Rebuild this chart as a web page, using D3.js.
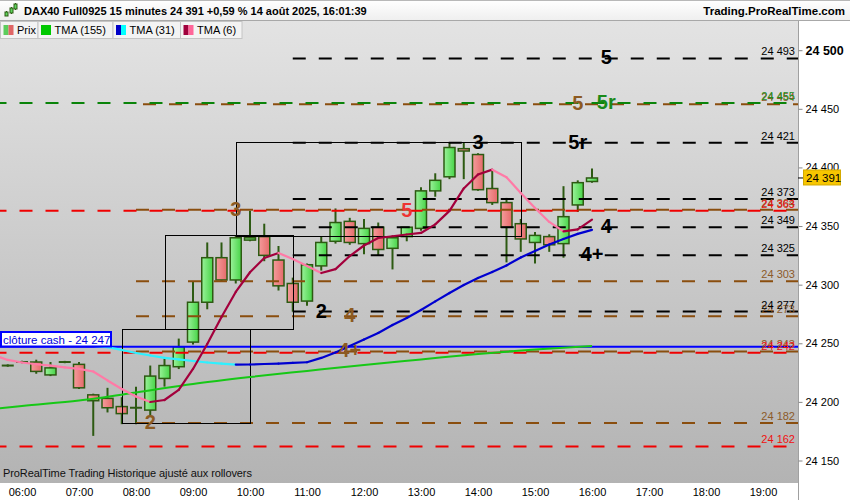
<!DOCTYPE html>
<html><head><meta charset="utf-8">
<script src="https://cdn.jsdelivr.net/npm/d3@7"></script>
<style>
html,body{margin:0;padding:0;background:#fff;}
svg{display:block;font-family:"Liberation Sans",Arial,sans-serif;}
</style></head><body>
<svg id="c" width="850" height="500"></svg>
<script>
// ---------------- DATA ----------------
const titleText = "DAX40 Full0925 15 minutes 24 391 +0,59 % 14 août 2025, 16:01:39";
const siteText = "Trading.ProRealTime.com";
const legendItems = ["Prix", "TMA (155)", "TMA (31)", "TMA (6)"];
const footerText = "ProRealTime Trading  Historique ajusté aux rollovers";

const timeTickLabels = ["06:00","07:00","08:00","09:00","10:00","11:00","12:00","13:00","14:00","15:00","16:00","17:00","18:00","19:00"];
const priceTicks = [24150, 24200, 24250, 24300, 24350, 24400, 24450, 24500];

const candleTimes = ["05:45","06:00","06:15","06:30","06:45","07:00","07:15","07:30","07:45","08:00","08:15","08:30","08:45","09:00","09:15","09:30","09:45","10:00","10:15","10:30","10:45","11:00","11:15","11:30","11:45","12:00","12:15","12:30","12:45","13:00","13:15","13:30","13:45","14:00","14:15","14:30","14:45","15:00","15:15","15:30","15:45","16:00"];
const openValues  = [24231,24234,24234,24223,24234,24232,24206,24203,24196,24195,24193,24220,24230,24251,24285,24323,24304,24338,24341,24321,24301,24286,24316,24337,24354,24335,24349,24331,24341,24348,24380,24392,24416,24411,24382,24370,24352,24336,24341,24335,24368,24388];
const highValues  = [24232,24235,24236,24234,24235,24234,24207,24212,24204,24213,24231,24237,24254,24303,24336,24336,24342,24363,24352,24333,24306,24318,24341,24365,24357,24356,24353,24341,24349,24383,24395,24421,24421,24412,24398,24374,24356,24345,24343,24384,24389,24399];
const lowValues   = [24230,24233,24224,24222,24233,24211,24171,24191,24181,24181,24188,24213,24228,24249,24279,24303,24301,24337,24320,24295,24277,24282,24312,24335,24334,24326,24325,24313,24337,24346,24375,24390,24390,24380,24368,24319,24328,24318,24328,24323,24362,24387];
const closeValues = [24231,24234,24226,24229,24234,24212,24201,24195,24190,24195,24222,24231,24247,24285,24323,24304,24340,24340,24325,24299,24285,24317,24336,24353,24336,24348,24330,24340,24349,24380,24389,24417,24414,24381,24370,24349,24339,24342,24334,24358,24387,24391];

// TMA (6)
const tma6Times  = ["05:30","05:45","06:00","06:15","06:30","06:45","07:00","07:15","07:30","07:45","08:00","08:15","08:30","08:45","09:00","09:15","09:30","09:45","10:00","10:15","10:30","10:45","11:00","11:15","11:30","11:45","12:00","12:15","12:30","12:45","13:00","13:15","13:30","13:45","14:00","14:15","14:30","14:45","15:00","15:15","15:30","15:45","16:00"];
const tma6Values = [24240.0,24235.8,24233.6,24232.1,24230.9,24229.5,24228.1,24225.9,24218.3,24211.0,24204.6,24199.9,24201.6,24210.2,24228.1,24249.4,24272.4,24293.8,24310.6,24322.8,24327.0,24321.9,24315.9,24309.9,24313.3,24324.4,24333.4,24339.8,24341.3,24342.8,24344.1,24351.4,24362.9,24382.1,24394.0,24398.1,24391.6,24378.2,24365.4,24353.5,24345.4,24347.1,24355.5];
// TMA (31)
const tma31Times  = ["07:15","07:30","07:45","08:00","08:15","08:30","08:45","09:00","09:15","09:30","09:45","10:00","10:15","10:30","10:45","11:00","11:15","11:30","11:45","12:00","12:15","12:30","12:45","13:00","13:15","13:30","13:45","14:00","14:15","14:30","14:45","15:00","15:15","15:30","15:45","16:00"];
const tma31Values = [24247.7,24246.6,24244.3,24241.7,24239.6,24237.5,24236.2,24234.9,24233.6,24232.6,24231.8,24231.9,24232.3,24232.7,24233.2,24233.8,24237.5,24242.2,24247.7,24253.2,24258.8,24265.6,24271.6,24278.4,24285.7,24292.9,24299.7,24305.7,24310.8,24316.4,24323.2,24328.8,24334.3,24339.0,24343.3,24346.7];
// TMA (155)
const tma155Times  = ["05:30","06:00","07:00","08:00","09:00","10:00","11:00","12:00","13:00","14:00","15:00","16:00"];
const tma155Values = [24193.9,24196.5,24201.2,24208.0,24215.3,24221.2,24226.4,24231.5,24236.2,24240.9,24244.7,24247.7];

// horizontal levels
const levelValues = [24454, 24364, 24303, 24273, 24243, 24182, 24455, 24493, 24421, 24373, 24349, 24325, 24277, 24363, 24242, 24162];
const levelKinds  = ["brown","brown","brown","brown","brown","brown","green","black","black","black","black","black","black","red","red","red"];
const levelStarts = ["08:00","08:00","08:00","08:00","08:00","08:00","05:30","10:45","10:45","10:45","10:45","10:45","10:45","05:30","05:30","05:30"];

const cashValue = 24247;
const cashLabel = "clôture cash -  24 247";
const lastPrice = 24391;

// boxes
const boxStart = ["07:45","08:30","09:45"];
const boxEnd   = ["10:00","10:45","14:45"];
const boxLow   = [24182, 24262, 24342];
const boxHigh  = [24262, 24342, 24422];

// wave labels
const waveTexts  = ["5","5","5r","3","5r","3","5","4","4+","2","4","4+","2"];
const waveTimes  = ["16:15","15:45","16:15","14:00","15:45","09:45","12:45","16:15","16:00","11:15","11:45","11:45","08:15"];
const waveValues = [24493, 24454, 24455, 24421, 24421, 24364, 24363, 24349, 24325, 24277, 24273, 24243, 24182];
const waveKinds  = ["black","brown","green","black","black","brown","red","black","black","black","brown","brown","brown"];

// ---------------- STYLE ----------------
const colors = {black:"#000000", brown:"#8a4e0e", green:"#0a840a", red:"#f00000"};
const labelColors = {black:"#000000", brown:"#8c5a22", green:"#1a8a1a", red:"#ee3333"};
const levelTextColors = {black:"#000000", brown:"#8c5a2a", green:"#1d8f1d", red:"#f01010"};

const toMin = s => { const p = s.split(":").map(Number); return p[0]*60 + p[1]; };
const fmt = v => { const s = String(Math.round(v)); return s.slice(0,2) + " " + s.slice(2); };

const plot = {left:0, right:798, top:21, bottom:483};
const x = d3.scaleLinear().domain([toMin("06:00"), toMin("19:00")]).range([22, 763]);
const y = d3.scaleLinear().domain([24150, 24500]).range([460.5, 50.2]);

const svg = d3.select("#c");
const defs = svg.append("defs");

const bg = defs.append("linearGradient").attr("id","bg").attr("x1",0).attr("y1",0).attr("x2",0).attr("y2",1);
bg.append("stop").attr("offset","0").attr("stop-color","#e3e3e3");
bg.append("stop").attr("offset","1").attr("stop-color","#b3b3b3");
const hd = defs.append("linearGradient").attr("id","hd").attr("x1",0).attr("y1",0).attr("x2",0).attr("y2",1);
hd.append("stop").attr("offset","0").attr("stop-color","#ffffff");
hd.append("stop").attr("offset","1").attr("stop-color","#efefef");
const gUp = defs.append("linearGradient").attr("id","gUp").attr("x1",0).attr("y1",0).attr("x2",1).attr("y2",0);
gUp.append("stop").attr("offset","0").attr("stop-color","#9af29a");
gUp.append("stop").attr("offset","1").attr("stop-color","#48d448");
const gDn = defs.append("linearGradient").attr("id","gDn").attr("x1",0).attr("y1",0).attr("x2",1).attr("y2",0);
gDn.append("stop").attr("offset","0").attr("stop-color","#f49c9c");
gDn.append("stop").attr("offset","1").attr("stop-color","#e56a6a");
defs.append("clipPath").attr("id","clip").append("rect")
  .attr("x",plot.left).attr("y",plot.top).attr("width",plot.right-plot.left).attr("height",plot.bottom-plot.top);

// backgrounds
svg.append("rect").attr("x",0).attr("y",0).attr("width",850).attr("height",500).attr("fill","#ffffff");
svg.append("rect").attr("x",plot.left).attr("y",plot.top).attr("width",plot.right-plot.left).attr("height",plot.bottom-plot.top).attr("fill","url(#bg)");

// header
svg.append("rect").attr("x",0).attr("y",0).attr("width",850).attr("height",20).attr("fill","url(#hd)");
svg.append("line").attr("x1",0).attr("x2",850).attr("y1",0.5).attr("y2",0.5).attr("stroke","#b8b8b8");
svg.append("line").attr("x1",0).attr("x2",850).attr("y1",20.5).attr("y2",20.5).attr("stroke","#a8a8a8");
// icon
const ic = svg.append("g").attr("stroke","#2d5a12").attr("stroke-width",1);
[[6,11,16,13,15],[11,7,14,9,12],[15,3,10,5,8]].forEach(d=>{
  ic.append("line").attr("x1",d[0]+0.5).attr("x2",d[0]+0.5).attr("y1",d[1]).attr("y2",d[2]);
  ic.append("rect").attr("x",d[0]-1).attr("y",d[3]-1).attr("width",3).attr("height",d[4]-d[3]+2).attr("fill","#5ed45e");
});
svg.append("text").attr("x",24).attr("y",15).attr("font-size",11).attr("font-weight","bold").attr("fill","#000").text(titleText);
svg.append("text").attr("x",845).attr("y",15).attr("text-anchor","end").attr("font-size",11.5).attr("font-weight","bold").attr("fill","#000").text(siteText);

// plot body
const g = svg.append("g").attr("clip-path","url(#clip)");

// candles
const candles = candleTimes.map((t,i)=>({t:toMin(t), o:openValues[i], h:highValues[i], l:lowValues[i], c:closeValues[i]}));
const cg = g.append("g");
candles.forEach(d=>{
  const cx = x(d.t);
  cg.append("line").attr("x1",cx).attr("x2",cx).attr("y1",y(d.h)).attr("y2",y(d.l)).attr("stroke","#2d5a12").attr("stroke-width",2);
  const top = y(Math.max(d.o,d.c)), bot = y(Math.min(d.o,d.c));
  if (bot - top < 1.5) {
    cg.append("line").attr("x1",cx-6).attr("x2",cx+6).attr("y1",(top+bot)/2).attr("y2",(top+bot)/2).attr("stroke","#2d5a12").attr("stroke-width",2);
  } else {
    cg.append("rect").attr("x",cx-5.5).attr("y",top).attr("width",11).attr("height",bot-top)
      .attr("fill", d.c>=d.o ? "url(#gUp)" : "url(#gDn)").attr("stroke","#2d5a12").attr("stroke-width",1.5);
  }
});

// horizontal levels
const lg = g.append("g");
levelValues.forEach((v,i)=>{
  const k = levelKinds[i];
  const x0 = x(toMin(levelStarts[i]));
  lg.append("line").attr("x1",x0).attr("x2",plot.right).attr("y1",y(v)).attr("y2",y(v))
    .attr("stroke",colors[k]).attr("stroke-width",2).attr("stroke-dasharray","13,13")
    .attr("stroke-dashoffset", k==="brown" && i===0 ? -7 : 0);
});
// cash line
g.append("line").attr("x1",plot.left).attr("x2",plot.right).attr("y1",y(cashValue)).attr("y2",y(cashValue))
  .attr("stroke","#0000ff").attr("stroke-width",2);

// boxes
boxStart.forEach((s,i)=>{
  const x0 = x(toMin(s)), x1 = x(toMin(boxEnd[i]));
  g.append("rect").attr("x",Math.round(x0)+0.5).attr("y",Math.round(y(boxHigh[i]))+0.5)
    .attr("width",Math.round(x1-x0)).attr("height",Math.round(y(boxLow[i])-y(boxHigh[i])))
    .attr("fill","none").attr("stroke","#000").attr("stroke-width",1);
});

// moving averages
function colorLine(times, vals, upC, dnC, w){
  const pts = times.map((t,i)=>[x(toMin(t)), y(vals[i])]);
  const line = d3.line();
  for (let i=1;i<pts.length;i++){
    g.append("path").attr("d", line([pts[i-1],pts[i]])).attr("fill","none")
      .attr("stroke", vals[i]>=vals[i-1] ? upC : dnC).attr("stroke-width",w).attr("stroke-linecap","round");
  }
}
g.append("path").attr("d", d3.line().curve(d3.curveMonotoneX)(tma155Times.map((t,i)=>[x(toMin(t)), y(tma155Values[i])])))
  .attr("fill","none").attr("stroke","#16c816").attr("stroke-width",2);
colorLine(tma31Times, tma31Values, "#0000d0", "#2ef0ff", 2.2);
colorLine(tma6Times, tma6Values, "#a3003c", "#ff7aa6", 2.2);

// level value labels (right, inside plot)
const lt = g.append("g").attr("font-size",11).attr("text-anchor","end");
levelValues.forEach((v,i)=>{
  lt.append("text").attr("x",795).attr("y",y(v)-3).attr("fill",levelTextColors[levelKinds[i]]).text(fmt(v));
});

// wave labels
const wl = g.append("g").attr("font-size",20).attr("font-weight","bold").attr("text-anchor","middle");
waveTexts.forEach((t,i)=>{
  wl.append("text").attr("x",x(toMin(waveTimes[i]))).attr("y",y(waveValues[i])+6)
    .attr("fill",labelColors[waveKinds[i]]).text(t);
});

// cash label box
svg.append("rect").attr("x",1).attr("y",332).attr("width",110).attr("height",14.5)
  .attr("fill","#ffffff").attr("stroke","#0000ff").attr("stroke-width",2);
svg.append("text").attr("x",3).attr("y",343.5).attr("font-size",11.5).attr("fill","#0000dd").text(cashLabel);

// legend row
const legX = [0, 37.5, 112.5, 180];
const legW = [37.5, 75, 67.5, 61.5];
const legIconL = ["#5ccc5c","#00c800","#0000c8","#a0003c"];
const legIconR = ["#e06666","#00c800","#00ffff","#ff6699"];
legendItems.forEach((t,i)=>{
  svg.append("rect").attr("x",legX[i]+0.5).attr("y",21.5).attr("width",legW[i]).attr("height",17)
    .attr("fill","#f3f3f3").attr("stroke","#c4c4c4");
  svg.append("rect").attr("x",legX[i]+3.5).attr("y",25).attr("width",5).attr("height",10).attr("fill",legIconL[i]);
  svg.append("rect").attr("x",legX[i]+8.5).attr("y",25).attr("width",5).attr("height",10).attr("fill",legIconR[i]);
  svg.append("text").attr("x",legX[i]+17).attr("y",34).attr("font-size",11).attr("fill","#000").text(t);
});

// footer text
svg.append("text").attr("x",3).attr("y",477).attr("font-size",11).attr("letter-spacing",-0.1).attr("fill","#111").text(footerText);

// right axis
const yAxis = d3.axisRight(y).tickValues(priceTicks).tickFormat(fmt).tickSize(4).tickPadding(3);
const ya = svg.append("g").attr("transform","translate(798.5,0)").call(yAxis);
ya.select(".domain").attr("stroke","#a0a0a0").attr("d","M0,21V500");
ya.selectAll(".tick line").attr("stroke","#888");
ya.selectAll(".tick text").attr("font-size",11).attr("fill","#000").attr("font-family","Liberation Sans, Arial, sans-serif");
ya.selectAll(".tick text").filter(d=>d===24500).attr("font-size",12.5).attr("font-weight","bold");

// last price tag
const ly = y(lastPrice);
svg.append("line").attr("x1",798).attr("x2",803).attr("y1",ly).attr("y2",ly).attr("stroke","#000");
svg.append("rect").attr("x",803.5).attr("y",ly-8).attr("width",37).attr("height",15).attr("fill","#f7c600").attr("stroke","#d4aa00");
svg.append("text").attr("x",806).attr("y",ly+4).attr("font-size",11.5).attr("fill","#000").text(fmt(lastPrice));

// bottom axis
const xAxis = d3.axisBottom(x).tickValues(timeTickLabels.map(toMin)).tickFormat((d,i)=>timeTickLabels[i]).tickSize(0).tickPadding(5);
const xa = svg.append("g").attr("transform","translate(0,"+plot.bottom+")").call(xAxis);
xa.select(".domain").remove();
xa.selectAll(".tick text").attr("font-size",11).attr("fill","#000").attr("font-family","Liberation Sans, Arial, sans-serif");
</script>
</body></html>
